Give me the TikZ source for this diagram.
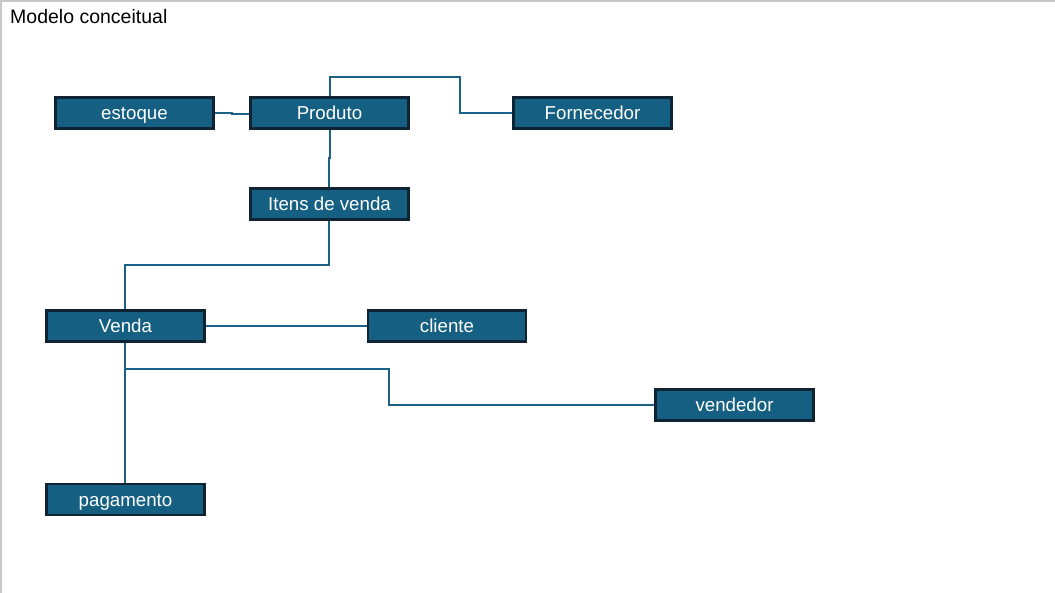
\documentclass[tikz,border=0pt]{standalone}
\usepackage{fontspec}
\setmainfont{Liberation Sans}
\definecolor{boxfill}{HTML}{156082}
\definecolor{boxline}{HTML}{0E2433}
\definecolor{linkc}{HTML}{1A6185}
\definecolor{framec}{HTML}{C8C8C8}
\pgfdeclarelayer{background}
\pgfsetlayers{background,main}
\tikzset{
  entity/.style={draw=boxline, line width=2.2pt, fill=boxfill, text=white,
    minimum width=158pt, minimum height=31pt, inner sep=0pt,
    text height=14.6pt, text depth=1pt,
    font=\fontsize{18.7}{20}\selectfont},
  link/.style={draw=linkc, line width=2pt},
}
\begin{document}
\begin{tikzpicture}[x=1pt,y=-1pt]
\useasboundingbox (0,0) rectangle (1055,593);
\node[anchor=base west, inner sep=0pt, font=\fontsize{19.5}{22}\selectfont] (title) at (10,24) {Modelo conceitual};

\node[entity] (estoque) at (134.5,113) {estoque};
\node[entity] (produto) at (329.5,113) {Produto};
\node[entity] (fornecedor) at (592.5,113) {Fornecedor};
\node[entity] (itens) at (329.5,204) {Itens de venda};
\node[entity] (venda) at (125.5,326) {Venda};
\node[entity] (cliente) at (447,326) {cliente};
\node[entity] (vendedor) at (734.5,405) {vendedor};
\node[entity] (pagamento) at (125.5,499.5) {pagamento};

\coordinate (branch) at (125,369);
\begin{pgfonlayer}{background}
\fill[white] (0,0) rectangle (1055,593);
\draw[framec, line width=1.2pt] (1,593) -- (1,1) -- (1055,1);
\draw[link] (estoque.east |- 0,113) -- (232,113) -- (232,114.5) -- (produto.west |- 0,114.5);
\draw[link] (produto.north -| 330,0) -- (330,77) -- (460,77) -- (460,113) -- (fornecedor.west |- 0,113);
\draw[link] (produto.south -| 330,0) -- (330,158) -- (329,158) -- (itens.north -| 329,0);
\draw[link] (itens.south -| 329,0) -- (329,265) -- (125,265) -- (venda.north -| 125,0);
\draw[link] (venda.east |- 0,326) -- (cliente.west |- 0,326);
\draw[link] (venda.south -| 125,0) -- (pagamento.north -| 125,0);
\draw[link] (branch) -- (389,369) -- (389,405) -- (vendedor.west |- 0,405);
\end{pgfonlayer}
\end{tikzpicture}
\end{document}
